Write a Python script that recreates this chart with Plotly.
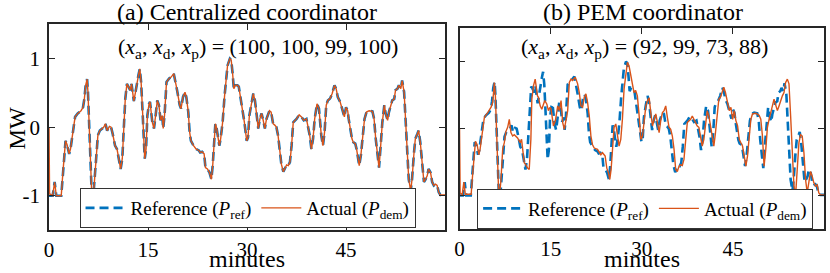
import plotly.graph_objects as go

# ---------------- data (minutes, MW) ----------------
t_ref = [0.0, 0.55, 0.85, 1.1, 1.85, 2.1, 2.36, 2.5, 2.75, 3.05, 3.25, 3.6, 3.95, 4.35, 4.85, 5.15, 5.35,
         5.55, 5.77, 5.9, 6.07, 6.27, 6.47, 6.7, 6.9, 7.15, 7.4, 7.7, 8.0, 8.3, 8.55, 8.8, 9.15, 9.4, 9.65,
         10.0, 10.3, 10.6, 10.85, 11.1, 11.3, 11.55, 11.8, 12.05, 12.3, 12.5, 12.7, 12.85, 13.1, 13.35,
         13.55, 13.75, 13.95, 14.15, 14.3, 14.5, 14.7, 14.9, 15.15, 15.3, 15.65, 15.9, 16.15, 16.4, 16.65,
         16.9, 17.15, 17.3, 17.5, 17.8, 18.2, 18.5, 18.9, 19.15, 19.4, 19.8, 20.0, 20.3, 20.6, 20.8, 21.1,
         21.3, 21.5, 21.9, 22.3, 22.7, 22.9, 23.2, 23.5, 23.7, 24.0, 24.3, 24.6, 24.8, 25.0, 25.2, 25.4,
         25.6, 25.8, 26.0, 26.3, 26.6, 26.8, 27.05, 27.4, 27.6, 27.8, 28.0, 28.25, 28.55, 28.75, 29.05,
         29.35, 29.6, 29.95, 30.15, 30.35, 30.7, 30.95, 31.2, 31.45, 31.7, 31.95, 32.2, 32.45, 32.7, 32.95,
         33.4, 33.65, 33.95, 34.2, 34.45, 34.7, 34.95, 35.2, 35.5, 35.75, 36.0, 36.25, 36.5, 36.75, 37.0,
         37.5, 37.9, 38.25, 38.6, 39.0, 39.25, 39.5, 39.75, 40.0, 40.25, 40.6, 40.9, 41.25, 41.5, 41.75,
         42.0, 42.25, 42.6, 42.9, 43.25, 43.5, 43.75, 44.1, 44.4, 44.75, 45.0, 45.25, 45.4, 45.6, 45.9,
         46.1, 46.4, 46.6, 46.8, 47.0, 47.25, 47.5, 47.8, 48.1, 48.5, 49.0, 49.25, 49.5, 49.75, 50.0,
         50.25, 50.5, 50.8, 51.0, 51.3, 51.5, 51.8, 52.0, 52.3, 52.5, 52.8, 53.0, 53.3, 53.5, 53.8, 54.0,
         54.3, 54.5, 54.8, 55.0, 55.3, 55.5, 55.8, 56.0, 56.25, 56.5, 56.8, 57.05, 57.3, 57.5, 57.8, 58.05,
         58.3, 58.55, 58.8, 59.05, 59.3, 60.0]
p_ref = [-1.0, -1.0, -0.8, -1.0, -1.0, -0.66, -0.32, -0.2, -0.26, -0.39, -0.32, -0.05, 0.15, 0.2, 0.24, 0.29, 0.41,
         0.61, 0.70, 0.51, 0.02, -0.56, -0.98, -1.02, -0.76, -0.32, -0.12, -0.05, -0.03, 0.0, 0.05, -0.05, 0.01, 0.0, -0.1,
         -0.27, -0.32, -0.49, -0.61, -0.46, -0.12, 0.41, 0.63, 0.59, 0.54, 0.63, 0.46, 0.38, 0.51, 0.68,
         0.76, 0.85, 0.66, 0.27, -0.12, -0.46, -0.32, 0.17, 0.34, 0.37, 0.07, -0.02, 0.17, 0.39, 0.32,
         0.10, 0.17, -0.02, 0.17, 0.66, 0.71, 0.73, 0.78, 0.68, 0.54, 0.32, 0.27, 0.44, 0.51, 0.44, 0.22,
         -0.07, -0.2, -0.27, -0.32, -0.34, -0.37, -0.36, -0.39, -0.59, -0.61, -0.66, -0.76, -0.56, -0.27, 0.05, -0.02,
         -0.17, -0.27, -0.17, 0.07, 0.46, 0.71, 0.9, 1.0, 0.98, 0.8, 0.56, 0.61, 0.61, 0.59, 0.41,
         0.17, 0.07, -0.2, -0.15, 0.17, 0.37, 0.49, 0.39, 0.17, -0.02, 0.12, 0.2, 0.1, -0.02, 0.12,
         0.24, 0.22, 0.05, 0.03, 0.0, -0.12, -0.37, -0.54, -0.65, -0.59, -0.55, -0.56, -0.51, -0.27, 0.07,
         0.12, 0.18, 0.15, 0.10, 0.12, 0.02, -0.12, -0.32, -0.17, 0.12, 0.34, 0.27, -0.12, -0.27, -0.07,
         0.32, 0.39, 0.42, 0.49, 0.61, 0.56, 0.44, 0.37, 0.27, 0.15, 0.29, 0.24, 0.12, -0.02, -0.17,
         -0.22, -0.24, -0.32, -0.46, -0.56, -0.41, -0.12, 0.12, 0.22, 0.24, 0.23, 0.12, -0.17, -0.41, -0.59,
         -0.27, 0.07, 0.32, 0.2, 0.1, 0.22, 0.32, 0.39, 0.41, 0.54, 0.56, 0.61, 0.56, 0.68, 0.51, 0.17,
         -0.32, -0.76, -0.93, -0.76, -0.37, -0.17, -0.10, -0.05, -0.22, -0.51, -0.8, -0.76, -0.71, -0.61, -0.66, -0.8,
         -0.85, -0.83, -0.85, -0.95, -0.99, -0.99]

# (a) centralized: actual tracks the reference; starts from 0 MW
t_dem_a = [0.0, 0.08] + t_ref[1:]
p_dem_a = [0.0, -0.97] + p_ref[1:]

# (b) PEM coordinator: actual power
t_dem_b = [0.0, 0.1, 0.45, 0.71, 0.95, 1.91, 2.18, 2.46, 2.62, 2.9, 3.17, 3.38, 3.82, 4.09, 4.64, 5.19,
           5.46, 5.62, 5.73, 5.9, 6.06, 6.28, 6.44, 6.6, 6.82, 7.1, 7.37, 7.64, 7.92, 8.19, 8.46, 8.74,
           9.01, 9.55, 9.99, 10.21, 10.43, 10.65, 10.92, 11.2, 11.47, 11.74, 11.9, 12.17, 12.45, 12.67,
           12.83, 13.0, 13.27, 13.54, 13.76, 14.03, 14.36, 14.63, 14.9, 15.07, 15.45, 15.78, 16.16, 16.43,
           16.71, 16.98, 17.25, 17.53, 17.8, 18.07, 18.35, 18.62, 19.05, 19.44, 19.71, 19.98, 20.26, 20.53,
           20.8, 21.08, 21.35, 21.62, 21.89, 22.17, 22.71, 23.26, 23.53, 23.97, 24.24, 24.51, 24.73, 24.95,
           25.17, 25.44, 25.72, 25.99, 26.26, 26.54, 26.81, 27.08, 27.35, 27.63, 27.9, 28.17, 28.45, 28.72,
           28.99, 29.27, 29.54, 29.85, 30.12, 30.39, 30.67, 30.94, 31.21, 31.48, 31.76, 32.03, 32.3, 32.58,
           32.85, 33.12, 33.4, 33.67, 33.94, 34.21, 34.49, 34.76, 35.03, 35.31, 35.58, 35.85, 36.13, 36.4,
           36.67, 36.94, 37.22, 37.49, 38.04, 38.31, 38.58, 38.86, 39.13, 39.4, 39.67, 39.95, 40.22, 40.49,
           40.77, 41.04, 41.31, 41.59, 41.86, 42.13, 42.4, 42.68, 42.95, 43.22, 43.5, 43.77, 44.04, 44.4,
           44.67, 44.95, 45.22, 45.49, 45.77, 46.04, 46.31, 46.58, 46.86, 47.13, 47.4, 47.68, 47.95, 48.22,
           48.77, 49.31, 49.59, 49.86, 50.13, 50.41, 50.68, 50.95, 51.23, 51.5, 51.77, 52.04, 52.32, 52.59,
           52.86, 53.14, 53.41, 53.68, 53.96, 54.23, 54.5, 54.77, 55.05, 55.32, 55.59, 55.87, 56.14, 56.41,
           56.69, 56.96, 57.23, 57.5, 57.78, 58.05, 58.32, 58.6, 58.87, 59.14, 59.42, 60.0]
p_dem_b = [0.0, -0.97, -0.98, -0.8, -0.98, -0.98, -0.66, -0.26, -0.19, -0.24, -0.39, -0.31, 0.04, 0.17, 0.24, 0.32,
           0.39, 0.59, 0.69, 0.49, -0.01, -0.56, -0.96, -0.99, -0.76, -0.31, -0.21, -0.04, 0.02, 0.14, -0.06, -0.11,
           -0.09, -0.14, -0.21, -0.16, -0.31, -0.51, -0.54, -0.59, -0.61, -0.16, 0.44, 0.64, 0.74, 0.59,
           0.49, 0.47, 0.34, 0.29, 0.34, 0.42, 0.37, 0.27, 0.32, 0.29, 0.04, 0.12, 0.34, 0.27,
           0.42, 0.09, -0.01, 0.14, 0.27, 0.69, 0.74, 0.72, 0.77, 0.67, 0.54, 0.34, 0.32, 0.47,
           0.52, 0.39, 0.19, -0.11, -0.24, -0.29, -0.31, -0.39, -0.36, -0.41, -0.59, -0.66, -0.76, -0.61,
           -0.31, 0.02, 0.07, -0.11, -0.26, -0.16, 0.14, 0.59, 0.79, 0.99, 0.94, 0.82, 0.64, 0.54,
           0.57, 0.49, 0.22, -0.16, -0.11, 0.14, 0.34, 0.42, 0.46, 0.24, 0.04, 0.14, 0.22, 0.09,
           -0.06, 0.12, 0.24, 0.27, 0.34, 0.17, 0.02, -0.01, -0.11, -0.31, -0.61, -0.64, -0.56, -0.54,
           -0.55, -0.46, -0.16, 0.09, 0.14, 0.19, 0.14, 0.09, 0.04, 0.02, -0.11, -0.26, -0.16, 0.04,
           0.27, 0.19, 0.04, -0.11, -0.26, -0.06, 0.24, 0.44, 0.47, 0.54, 0.62, 0.54, 0.42, 0.27,
           0.32, 0.14, 0.27, 0.12, 0.04, -0.16, -0.21, -0.26, -0.41, -0.56, -0.41, -0.06, 0.14, 0.22,
           0.23, 0.2, 0.14, -0.11, -0.56, -0.31, 0.02, 0.14, 0.27, 0.34, 0.44, 0.37, 0.27, 0.34,
           0.42, 0.49, 0.54, 0.69, 0.74, 0.67, 0.19, -0.41, -0.86, -0.99, -0.66, -0.21, -0.09, -0.11,
           -0.36, -0.76, -0.96, -0.81, -0.64, -0.71, -0.81, -0.86, -0.84, -0.96, -0.99, -0.99]

x_tick_vals = [0, 15, 30, 45]
x_tick_text = ["0", "15", "30", "45"]
y_tick_vals = [-1, 0, 1]
y_tick_text = ["-1", "0", "1"]

panel_titles = ["(a) Centralized coordinator", "(b) PEM coordinator"]
panel_notes = ["(<i>x</i><sub>a</sub>, <i>x</i><sub>d</sub>, <i>x</i><sub>p</sub>) = (100, 100, 99, 100)",
               "(<i>x</i><sub>a</sub>, <i>x</i><sub>d</sub>, <i>x</i><sub>p</sub>) = (92, 99, 73, 88)"]
name_ref = "Reference (<i>P</i><sub>ref</sub>)"
name_dem = "Actual (<i>P</i><sub>dem</sub>)"

# ---------------- styling ----------------
W, H = 830, 273
FONT = "Liberation Serif"
BLUE = "#0072BD"
ORANGE = "#D95319"
AX = "#262626"

def px(x):
    return x / W

def py(y):
    return 1 - y / H

fig = go.Figure()

for i, (tb, pb, leg) in enumerate([(t_dem_a, p_dem_a, "legend"), (t_dem_b, p_dem_b, "legend2")]):
    xa = "x" if i == 0 else "x2"
    ya = "y" if i == 0 else "y2"
    fig.add_trace(go.Scatter(x=t_ref, y=p_ref, mode="lines", name=name_ref, xaxis=xa, yaxis=ya,
                             line=dict(color=BLUE, width=2.6, dash="9px,5px"), legend=leg))
    fig.add_trace(go.Scatter(x=tb, y=pb, mode="lines", name=name_dem, xaxis=xa, yaxis=ya,
                             line=dict(color=ORANGE, width=1.4), legend=leg))

axis_common = dict(showline=True, linecolor=AX, linewidth=1.5, mirror="ticks", ticks="inside",
                   ticklen=6, tickwidth=1.2, tickcolor=AX, showgrid=False, zeroline=False,
                   tickfont=dict(family=FONT, size=21, color="black"))

leg_common = dict(orientation="h", xanchor="center", yanchor="middle",
                  bgcolor="white", bordercolor="#333333", borderwidth=1,
                  font=dict(family=FONT, size=19, color="black"), itemwidth=40)

fig.update_layout(
    width=W, height=H, margin=dict(l=0, r=0, t=0, b=0),
    paper_bgcolor="white", plot_bgcolor="white",
    font=dict(family=FONT, color="black"),
    xaxis=dict(domain=[px(44.3), px(442.7)], range=[0, 60], tickvals=x_tick_vals, ticktext=x_tick_text,
               anchor="y", **axis_common),
    yaxis=dict(domain=[py(230), py(24.3)], range=[-1.5, 1.5], tickvals=y_tick_vals, ticktext=y_tick_text,
               anchor="x", ticklabelstandoff=3, **axis_common),
    xaxis2=dict(domain=[px(457.3), px(824)], range=[0, 60], tickvals=x_tick_vals, ticktext=x_tick_text,
                anchor="y2", **axis_common),
    yaxis2=dict(domain=[py(229), py(28.3)], range=[-1.5, 1.5], tickvals=y_tick_vals, ticktext=y_tick_text,
                anchor="x2", showticklabels=False, **axis_common),
    legend=dict(x=px(244), y=py(208), **leg_common),
    legend2=dict(x=px(644), y=py(208.5), **leg_common),
    showlegend=True,
)

ann = []
ann.append(dict(text=panel_titles[0], x=px(243.5), y=py(12), xref="paper", yref="paper",
                showarrow=False, font=dict(family=FONT, size=24), xanchor="center", yanchor="middle"))
ann.append(dict(text=panel_titles[1], x=px(641.7), y=py(12), xref="paper", yref="paper",
                showarrow=False, font=dict(family=FONT, size=24), xanchor="center", yanchor="middle"))
ann.append(dict(text=panel_notes[0], x=px(255), y=py(48), xref="paper", yref="paper",
                showarrow=False, font=dict(family=FONT, size=22), xanchor="center", yanchor="middle"))
ann.append(dict(text=panel_notes[1], x=px(643), y=py(48), xref="paper", yref="paper",
                showarrow=False, font=dict(family=FONT, size=22), xanchor="center", yanchor="middle"))
for cx in (243.5, 641):
    ann.append(dict(text="minutes", x=px(cx), y=py(259), xref="paper", yref="paper",
                    showarrow=False, font=dict(family=FONT, size=24), xanchor="center", yanchor="middle"))
ann.append(dict(text="MW", x=px(12.5), y=py(128), xref="paper", yref="paper", textangle=-90,
                showarrow=False, font=dict(family=FONT, size=23), xanchor="center", yanchor="middle"))
fig.update_layout(annotations=ann)

fig.write_html("out.html", config={"displayModeBar": False},
               post_script="document.body.style.margin='0px';")
